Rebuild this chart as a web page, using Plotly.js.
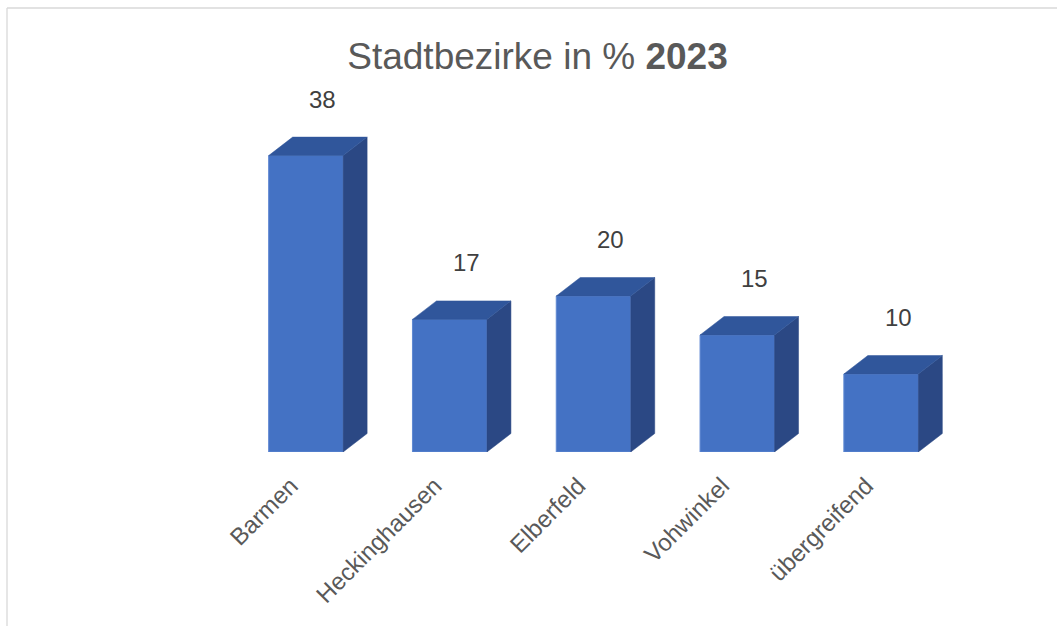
<!DOCTYPE html>
<html>
<head>
<meta charset="utf-8">
<script src="https://cdn.plot.ly/plotly-3.0.1.min.js"></script>
<style>html,body{margin:0;padding:0;background:#fff;}#chart{width:1057px;height:626px;}</style>
</head>
<body>
<div id="chart"></div>
<script>
// ---- data ----
const categories = ["Barmen", "Heckinghausen", "Elberfeld", "Vohwinkel", "übergreifend"];
const values = [38, 17, 20, 15, 10];
const titleMain = "Stadtbezirke in % ";
const titleYear = "2023";

// ---- style constants ----
const W = 1057, H = 626;
const margin = {l: 234, r: 104, t: 62, b: 174, pad: 0};
const xRange = [-0.5, categories.length - 0.5];
const yRange = [0, 50];
const barWidth = 0.518;          // in category units
const plotW = W - margin.l - margin.r;
const plotH = H - margin.t - margin.b;
const pxPerX = plotW / (xRange[1] - xRange[0]);
const pxPerY = plotH / (yRange[1] - yRange[0]);
const depthX = 24 / pxPerX;      // 3D depth offset, converted to axis units
const depthY = 18.5 / pxPerY;

const FRONT = "#4472c4", TOP = "#30569b", SIDE = "#2b4884";
const FONT = "Liberation Sans, Arial, sans-serif";

const xs = categories.map((c, i) => i);
const traces = [];

xs.forEach((x, i) => {
  const v = values[i];
  const L = x - barWidth / 2, R = x + barWidth / 2;
  // side face
  traces.push({
    type: "scatter", mode: "lines", fill: "toself", fillcolor: SIDE,
    line: {color: SIDE, width: 0.5}, hoverinfo: "skip", showlegend: false,
    x: [R, R + depthX, R + depthX, R, R],
    y: [0, depthY, v + depthY, v, 0]
  });
  // top face
  traces.push({
    type: "scatter", mode: "lines", fill: "toself", fillcolor: TOP,
    line: {color: TOP, width: 0.5}, hoverinfo: "skip", showlegend: false,
    x: [L, L + depthX, R + depthX, R, L],
    y: [v, v + depthY, v + depthY, v, v]
  });
});

// front faces
traces.push({
  type: "bar", x: xs, y: values, width: barWidth,
  marker: {color: FRONT, line: {color: "#5f88d2", width: 1}},
  hoverinfo: "skip", showlegend: false
});

const annotations = xs.map((x, i) => ({
  x: x + depthX / 2, y: values[i] + depthY, xref: "x", yref: "y",
  text: String(values[i]), showarrow: false,
  xanchor: "center", yanchor: "middle", xshift: 5, yshift: 38,
  font: {family: FONT, size: 24, color: "#404040"}
}));

// chart border (top and left edges visible)
const px2paperX = p => (p - margin.l) / plotW;
const px2paperY = p => (H - margin.b - p) / plotH;
const shapes = [
  {type: "line", xref: "paper", yref: "paper",
   x0: px2paperX(7), x1: px2paperX(7), y0: px2paperY(8), y1: px2paperY(H + 5),
   line: {color: "#d9d9d9", width: 1.3}},
  {type: "line", xref: "paper", yref: "paper",
   x0: px2paperX(7), x1: px2paperX(W + 5), y0: px2paperY(8), y1: px2paperY(8),
   line: {color: "#d9d9d9", width: 1.3}}
];

const layout = {
  width: W, height: H, margin: margin,
  paper_bgcolor: "#ffffff", plot_bgcolor: "#ffffff",
  title: {
    text: titleMain + "<b>" + titleYear + "</b>",
    font: {family: FONT, size: 37, color: "#595959"},
    xref: "container", yref: "container",
    x: 537.5 / W, xanchor: "center", y: 1 - 56.3 / H, yanchor: "middle"
  },
  xaxis: {
    range: xRange, tickmode: "array", tickvals: xs, ticktext: categories,
    tickangle: -45, ticks: "", showgrid: false, zeroline: false, showline: false,
    ticklabelstandoff: 14, ticklabelshift: -15,
    tickfont: {family: FONT, size: 24, color: "#595959"}, fixedrange: true
  },
  yaxis: {
    range: yRange, visible: false, showgrid: false, zeroline: false, fixedrange: true
  },
  annotations: annotations,
  shapes: shapes,
  hovermode: false,
  showlegend: false
};

Plotly.newPlot("chart", traces, layout, {displayModeBar: false, staticPlot: true});
</script>
</body>
</html>
